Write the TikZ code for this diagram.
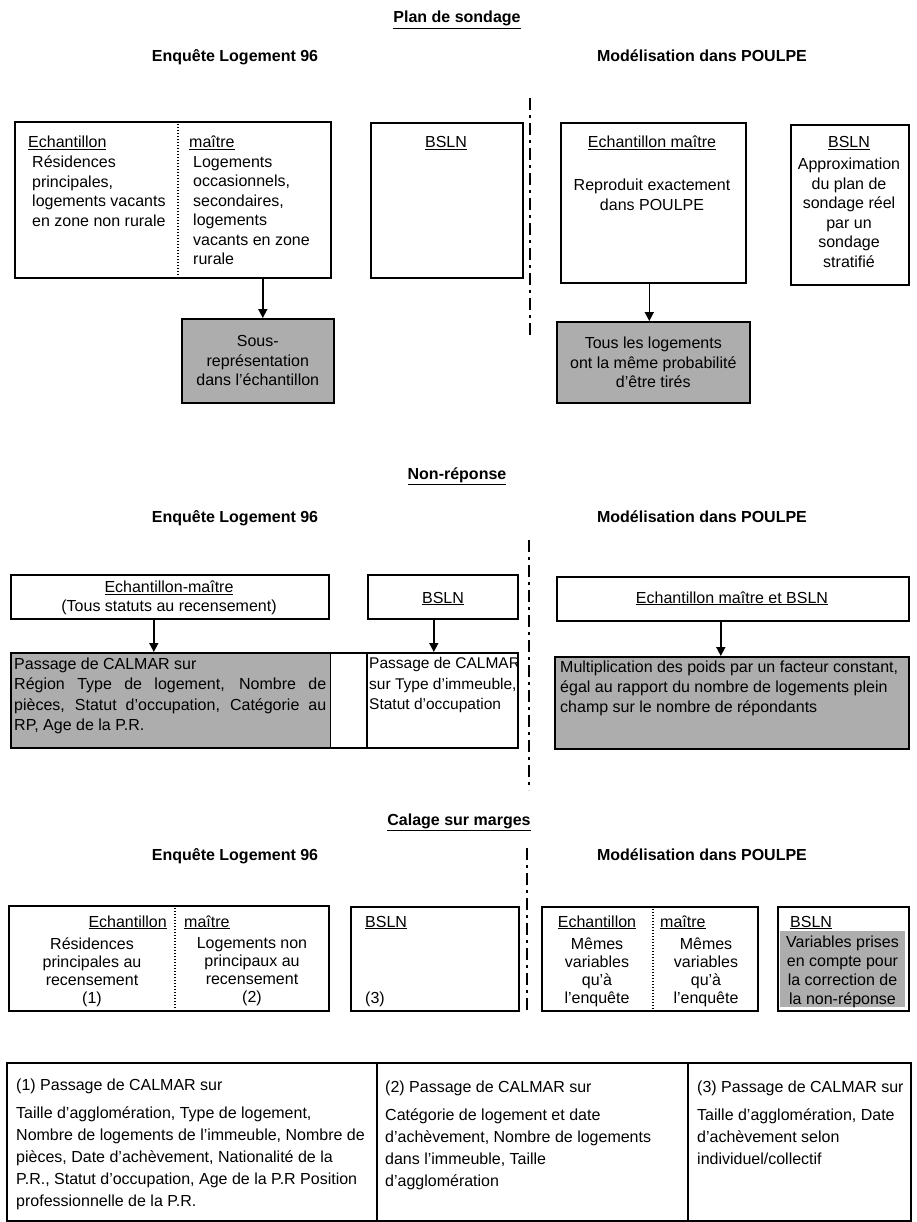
\documentclass[tikz,border=0pt]{standalone}
\usepackage{fontspec}
\setmainfont{Liberation Sans}
\usetikzlibrary{arrows.meta}
\begin{document}
\begin{tikzpicture}[x=1pt,y=-1pt,
  every node/.style={font=\fontsize{16}{19.5}\selectfont, inner sep=0pt},
  frame/.style={draw, line width=1.6pt},
  shadebox/.style={draw, line width=1.6pt, fill=black!32},
  shadefill/.style={fill=black!32},
  nw/.style={anchor=north west},
  sepline/.style={line width=1.3pt, dash pattern=on 1.4pt off 1.6pt},
  divider/.style={line width=1.6pt, dash pattern=on 12pt off 5pt on 3pt off 5pt},
  arr/.style={line width=1.6pt, -{Triangle[width=9pt,length=9pt]}},
  hd/.style={font=\fontsize{16}{19}\selectfont\bfseries, anchor=base},
  tight/.style={font=\fontsize{16}{18}\selectfont},
  wide/.style={font=\fontsize{16}{22}\selectfont},
]
\fill[white] (0,0) rectangle (917,1222);
\useasboundingbox (0,0) rectangle (917,1222);

% ================= Plan de sondage =================
\node[hd] (t1) at (457,23) {\underline{Plan de sondage}};
\node[hd] (h1l) at (235,62) {Enquête Logement 96};
\node[hd] (h1r) at (702,62) {Modélisation dans POULPE};
\coordinate (d1a) at (530,98);
\coordinate (d1b) at (530,335);
\draw[divider] (d1a) -- (d1b);

\node[frame, nw, minimum width=316, minimum height=156] (pA) at (14,121) {};
\coordinate (pAs1) at (178,121);
\coordinate (pAs2) at (178,277);
\draw[sepline] (pAs1) -- (pAs2);
\node[anchor=base west] (pAe) at (28,148) {\underline{Echantillon}};
\node[nw, align=left] (pAl) at (32,156) {Résidences\\principales,\\logements vacants\\en zone non rurale};
\node[anchor=base west] (pAm) at (189,148) {\underline{maître}};
\node[nw, align=left] (pAr) at (193,156) {Logements\\occasionnels,\\secondaires,\\logements\\vacants en zone\\rurale};

\node[frame, nw, minimum width=152, minimum height=155] (pB) at (370,122) {};
\node[anchor=base] (pBt) at (446,148) {\underline{BSLN}};

\node[frame, nw, minimum width=185, minimum height=160] (pC) at (560,122) {};
\node[anchor=base] (pCt) at (652,148) {\underline{Echantillon maître}};
\node[anchor=north, align=center] (pCx) at (652,179) {Reproduit exactement\\dans POULPE};

\node[frame, nw, minimum width=118, minimum height=160] (pD) at (790,124) {};
\node[anchor=base] (pDt) at (849,148) {\underline{BSLN}};
\node[anchor=north, align=center] (pDx) at (849,158) {Approximation\\du plan de\\sondage réel\\par un\\sondage\\stratifié};

\node[shadebox, nw, minimum width=152, minimum height=84, align=center] (pE) at (181,318) {Sous-\\représentation\\dans l’échantillon};
\node[shadebox, nw, minimum width=193, minimum height=81, align=center] (pF) at (556,321) {Tous les logements\\ont la même probabilité\\d’être tirés};

\coordinate (pEa) at ([xshift=5pt]pE.north);
\draw[arr] (pEa |- pA.south) -- (pEa);
\coordinate (pFa) at ([xshift=-4pt]pF.north);
\draw[arr] (pFa |- pC.south) -- (pFa);

% ================= Non-réponse =================
\node[hd] (t2) at (457,479) {\underline{Non-réponse}};
\node[hd] (h2l) at (235,522) {Enquête Logement 96};
\node[hd] (h2r) at (702,522) {Modélisation dans POULPE};
\coordinate (d2a) at (529,540);
\coordinate (d2b) at (529,790);
\draw[divider] (d2a) -- (d2b);

\node[frame, nw, minimum width=318, minimum height=44] (nA) at (10,574) {};
\node[anchor=north, align=center] (nAx) at (169,580.5) {\underline{Echantillon-maître}\\(Tous statuts au recensement)};
\node[frame, nw, minimum width=150, minimum height=44] (nB) at (367,574) {};
\node[anchor=base] (nBt) at (443,603) {\underline{BSLN}};

\node[shadefill, nw, minimum width=320, minimum height=95] (nCs) at (10,652) {};
\node[frame, nw, minimum width=507, minimum height=95] (nC) at (10,652) {};
\coordinate (nCv1) at (330,652);
\coordinate (nCv2) at (330,747);
\draw[line width=1pt] (nCv1) -- (nCv2);
\coordinate (nCw1) at (367,652);
\coordinate (nCw2) at (367,747);
\draw[line width=1.6pt] (nCw1) -- (nCw2);
\node[nw, align=left, font=\fontsize{16}{20.5}\selectfont] (nCl) at (14,657.5) {Passage de CALMAR sur\\\makebox[312pt][s]{Région Type de logement, Nombre de}\\\makebox[312pt][s]{pièces, Statut d’occupation, Catégorie au}\\RP, Age de la P.R.};
\node[nw, align=left, font=\fontsize{15.5}{20.5}\selectfont] (nCr) at (369,657.5) {Passage de CALMAR\\sur Type d’immeuble,\\Statut d’occupation};

\coordinate (nAa) at ([xshift=-16pt]nA.south);
\draw[arr] (nAa) -- (nAa |- nC.north);
\coordinate (nBa) at ([xshift=-9pt]nB.south);
\draw[arr] (nBa) -- (nBa |- nC.north);

\node[frame, nw, minimum width=352, minimum height=44] (nD) at (556,576) {};
\node[anchor=base] (nDt) at (732,603) {\underline{Echantillon maître et BSLN}};
\node[shadebox, nw, minimum width=354, minimum height=92] (nE) at (554,656) {};
\node[nw, align=left, font=\fontsize{16}{20}\selectfont] (nEx) at (560,661) {Multiplication des poids par un facteur constant,\\égal au rapport du nombre de logements plein\\champ sur le nombre de répondants};
\coordinate (nDa) at ([xshift=-12pt]nD.south);
\draw[arr] (nDa) -- (nDa |- nE.north);

% ================= Calage sur marges =================
\node[hd] (t3) at (459,825) {\underline{Calage sur marges}};
\node[hd] (h3l) at (235,860) {Enquête Logement 96};
\node[hd] (h3r) at (702,860) {Modélisation dans POULPE};
\coordinate (d3a) at (527,848);
\coordinate (d3b) at (527,1012);
\draw[divider] (d3a) -- (d3b);

\node[frame, nw, minimum width=320, minimum height=105] (cA) at (8,905) {};
\coordinate (cAs1) at (175,905);
\coordinate (cAs2) at (175,1010);
\draw[sepline] (cAs1) -- (cAs2);
\node[anchor=base east] (cAe) at (167,927) {\underline{Echantillon}};
\node[anchor=base west] (cAm) at (184,927) {\underline{maître}};
\node[anchor=north, align=center, tight] (cAl) at (92,937.5) {Résidences\\principales au\\recensement\\(1)};
\node[anchor=north, align=center, tight] (cAr) at (252,937.5) {Logements non\\principaux au\\recensement\\(2)};

\node[frame, nw, minimum width=168, minimum height=104] (cB) at (350,906) {};
\node[anchor=base west] (cBt) at (365,927) {\underline{BSLN}};
\node[anchor=base west] (cB3) at (365,1003) {(3)};

\node[frame, nw, minimum width=216, minimum height=104] (cC) at (541,906) {};
\coordinate (cCs1) at (653,906);
\coordinate (cCs2) at (653,1010);
\draw[sepline] (cCs1) -- (cCs2);
\node[anchor=base] (cCe) at (597,927) {\underline{Echantillon}};
\node[anchor=base west] (cCm) at (660,927) {\underline{maître}};
\node[anchor=north, align=center, tight] (cCl) at (597,937.5) {Mêmes\\variables\\qu’à\\l’enquête};
\node[anchor=north, align=center, tight] (cCr) at (706,937.5) {Mêmes\\variables\\qu’à\\l’enquête};

\node[frame, nw, minimum width=131, minimum height=104] (cD) at (777,906) {};
\node[anchor=base west] (cDt) at (790,927) {\underline{BSLN}};
\node[shadefill, nw, minimum width=125, minimum height=76] (cDs) at (780,931) {};
\node[anchor=north, align=center, font=\fontsize{16}{19}\selectfont] (cDx) at (842.5,935.5) {Variables prises\\en compte pour\\la correction de\\la non-réponse};

% ================= Bottom table =================
\node[frame, nw, minimum width=904, minimum height=158] (bT) at (6,1062) {};
\coordinate (bv1a) at (377,1062);
\coordinate (bv1b) at (377,1220);
\draw[line width=1.6pt] (bv1a) -- (bv1b);
\coordinate (bv2a) at (688,1062);
\coordinate (bv2b) at (688,1220);
\draw[line width=1.6pt] (bv2a) -- (bv2b);

\node[anchor=base west] (b1h) at (16,1090) {(1) Passage de CALMAR sur};
\node[nw, align=left, wide] (b1x) at (16,1106.5) {Taille d’agglomération, Type de logement,\\Nombre de logements de l’immeuble, Nombre de\\pièces, Date d’achèvement, Nationalité de la\\P.R., Statut d’occupation, Age de la P.R Position\\professionnelle de la P.R.};

\node[anchor=base west] (b2h) at (385,1092) {(2) Passage de CALMAR sur};
\node[nw, align=left, wide] (b2x) at (385,1108.5) {Catégorie de logement et date\\d’achèvement, Nombre de logements\\dans l’immeuble, Taille\\d’agglomération};

\node[anchor=base west] (b3h) at (697,1092) {(3) Passage de CALMAR sur};
\node[nw, align=left, wide] (b3x) at (697,1108.5) {Taille d’agglomération, Date\\d’achèvement selon\\individuel/collectif};
\end{tikzpicture}
\end{document}
